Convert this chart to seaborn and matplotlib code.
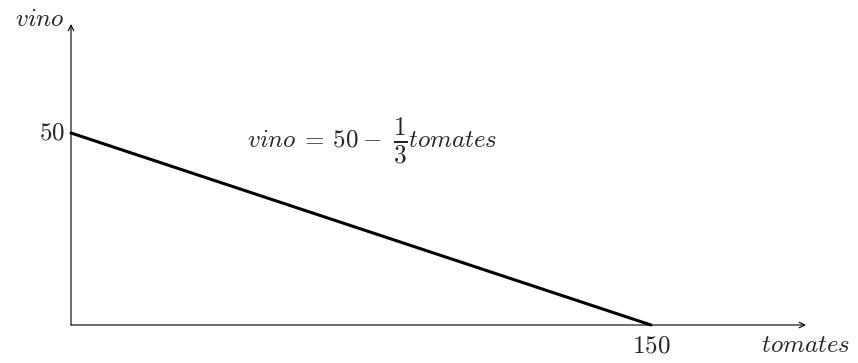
import matplotlib
matplotlib.use("Agg")
import matplotlib.pyplot as plt
import seaborn as sns
import pandas as pd

tomates = [0, 150]
vino = [50, 0]
x_label = "tomates"
y_label = "vino"
x_tick = [150]
y_tick = [50]

sns.set_style("white")
plt.rcParams["mathtext.fontset"] = "cm"
plt.rcParams["font.family"] = ["DejaVu Serif"]

W, H = 858, 363
fig = plt.figure(figsize=(W / 100, H / 100), dpi=100)
ax = fig.add_axes([0, 0, 1, 1])
ox, oy = 71, 325
sx = (651 - 71) / 150
sy = (325 - 133) / 50
ax.set_xlim((0 - ox) / sx, (W - ox) / sx)
ax.set_ylim((oy - H) / sy, oy / sy)
ax.axis("off")

df = pd.DataFrame({"tomates": tomates, "vino": vino})
sns.lineplot(data=df, x="tomates", y="vino", ax=ax, color="black", linewidth=2.2)

xend = (806 - ox) / sx
yend = (oy - 24) / sy
arrow = dict(arrowstyle="->", color="black", lw=0.8, shrinkA=0, shrinkB=0)
ax.annotate("", xy=(xend, 0), xytext=(0, 0), arrowprops=arrow)
ax.annotate("", xy=(0, yend), xytext=(0, 0), arrowprops=arrow)

fs = 18


def px(x, y):
    return (x - ox) / sx, (oy - y) / sy


for v in y_tick:
    ax.text(-6 / sx, v, f"${v}$", ha="right", va="center", fontsize=fs)
for v in x_tick:
    ax.text(v, -21 / sy, f"${v}$", ha="center", va="center", fontsize=fs)
ax.text(-7 / sx, yend + 5 / sy, f"${y_label}$", ha="right", va="center", fontsize=fs)
ax.text((850 - ox) / sx, -20 / sy, f"${x_label}$", ha="right", va="center", fontsize=fs)

# equation: vino = 50 - (1/3) tomates
base = 147
ax.text(*px(382, base), r"$vino\:=\:50\:-$", ha="right", va="baseline", fontsize=fs)
ax.text(*px(400, 142), r"$\frac{1}{3}$", ha="center", va="center", fontsize=fs * 1.45)
ax.text(*px(408, base), r"$tomates$", ha="left", va="baseline", fontsize=fs)

fig.savefig("out.png", dpi=100)
